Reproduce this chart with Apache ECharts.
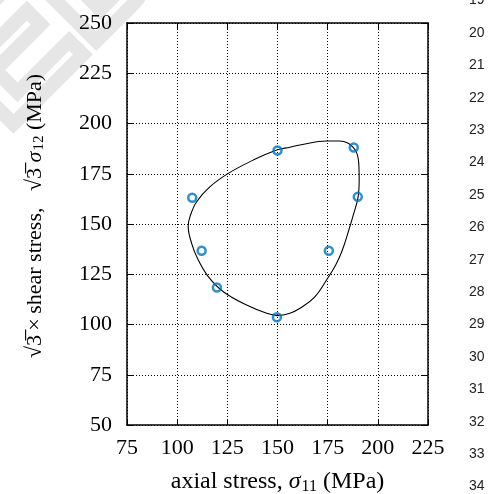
<!DOCTYPE html>
<html>
<head>
<meta charset="utf-8">
<script src="https://cdn.jsdelivr.net/npm/echarts@6/dist/echarts.min.js"></script>
<style>html,body{margin:0;padding:0;background:#fff;}#c{width:488px;height:494px;}</style>
</head>
<body>
<div id="c"></div>
<script>
// experimental points (axial stress, sqrt3 * shear stress)
var expX = [150, 188, 190, 107.5, 112.2, 175.6, 119.8, 149.7];
var expY = [186.6, 188.1, 163.5, 163.1, 136.7, 136.7, 118.4, 103.6];
// fitted yield locus (closed curve)
var curveX = [149.9,156.2,161.2,168.5,174.6,179.0,182.2,185.3,187.8,190.2,190.7,190.6,190.2,189.2,187.8,185.0,181.1,174.5,161.2,156.2,149.6,137.9,125.5,116.4,109.7,106.4,105.5,107.2,110.5,115.5,123.0,134.6,144.6,149.9];
var curveY = [104.4,105.6,108.1,113.6,122.4,129.6,136.7,146.2,154.5,163.6,172.0,178.0,182.7,186.0,188.0,190.3,191.3,191.3,189.3,188.2,186.8,181.8,175.2,168.6,161.1,153.7,148.7,140.4,132.1,123.8,116.3,109.7,105.6,104.4];
var xTicks = {min: 75, max: 225, interval: 25};
var yTicks = {min: 50, max: 250, interval: 25};
var lineNumbers = ['19','20','21','22','23','24','25','26','27','28','29','30','31','32','33','34'];

var serif = "'Liberation Serif','DejaVu Serif',serif";
var chart = echarts.init(document.getElementById('c'), null, {renderer: 'canvas'});

function pairs(xs, ys) { return xs.map(function (x, i) { return [x, ys[i]]; }); }

var graphics = lineNumbers.map(function (t, i) {
  return {type: 'text', x: 469, y: 0.5 + i * 32.4, silent: true,
    style: {text: t, font: "14px 'Liberation Sans', Arial, sans-serif", fill: '#222', verticalAlign: 'middle'}};
});
graphics.unshift({type: 'text', x: 205, y: -12, rotation: Math.PI / 4, silent: true, z: -10,
  style: {text: 'ED', font: "bold 175px 'Liberation Sans', sans-serif", fill: 'none', stroke: '#e6e6e6', lineWidth: 14, align: 'right', verticalAlign: 'bottom'}});

var axisCommon = {
  type: 'value',
  axisLine: {show: true, lineStyle: {color: '#000', width: 1.5}},
  axisTick: {show: true, inside: true, length: 6, lineStyle: {color: '#000', width: 1}},
  splitLine: {show: false}
};

chart.setOption({
  animation: false,
  backgroundColor: '#fff',
  graphic: graphics,
  grid: {left: 127, top: 23, right: 60, bottom: 69, containLabel: false, outerBoundsMode: 'none'},
  xAxis: [
    Object.assign({}, axisCommon, {
      position: 'bottom', min: xTicks.min, max: xTicks.max, interval: xTicks.interval,
      axisLabel: {color: '#000', fontFamily: serif, fontSize: 22, margin: 12},
      splitLine: {show: true, lineStyle: {color: '#000', width: 1, type: [1, 2]}},
      name: '{n|axial stress, }{i|σ}{s|11}{n| (MPa)}',
      nameLocation: 'middle', nameGap: 44,
      nameTextStyle: {rich: {
        n: {fontFamily: serif, fontSize: 24, color: '#000'},
        i: {fontFamily: serif, fontSize: 24, fontStyle: 'italic', color: '#000'},
        s: {fontFamily: serif, fontSize: 16, color: '#000', padding: [10, 0, 0, 1]}
      }}
    }),
    Object.assign({}, axisCommon, {
      position: 'top', min: xTicks.min, max: xTicks.max, interval: xTicks.interval,
      axisLabel: {show: false}
    })
  ],
  yAxis: [
    Object.assign({}, axisCommon, {
      position: 'left', min: yTicks.min, max: yTicks.max, interval: yTicks.interval,
      axisLabel: {color: '#000', fontFamily: serif, fontSize: 22, margin: 15},
      splitLine: {show: true, lineStyle: {color: '#000', width: 1, type: [1, 2]}},
      name: '{n|√3\u0305\u2009×\u2009shear stress,   √3\u0305 }{i|σ}{s|12}{n| (MPa)}',
      nameLocation: 'middle', nameGap: 80, nameRotate: 90,
      nameTextStyle: {padding: [0, 0, 0, 16], rich: {
        n: {fontFamily: serif, fontSize: 22, color: '#000'},
        i: {fontFamily: serif, fontSize: 22, fontStyle: 'italic', color: '#000'},
        s: {fontFamily: serif, fontSize: 15, color: '#000', padding: [9, 0, 0, 1]}
      }}
    }),
    Object.assign({}, axisCommon, {
      position: 'right', min: yTicks.min, max: yTicks.max, interval: yTicks.interval,
      axisLabel: {show: false}
    })
  ],
  series: [
    {type: 'line', data: pairs(curveX, curveY), smooth: 0.4, symbol: 'none',
      lineStyle: {color: '#000', width: 1.1}, z: 2},
    {type: 'scatter', data: pairs(expX, expY), symbol: 'circle', symbolSize: 8,
      itemStyle: {color: 'rgba(0,0,0,0)', borderColor: '#0072BD', borderWidth: 2.5}, z: 3}
  ]
});
</script>
</body>
</html>
